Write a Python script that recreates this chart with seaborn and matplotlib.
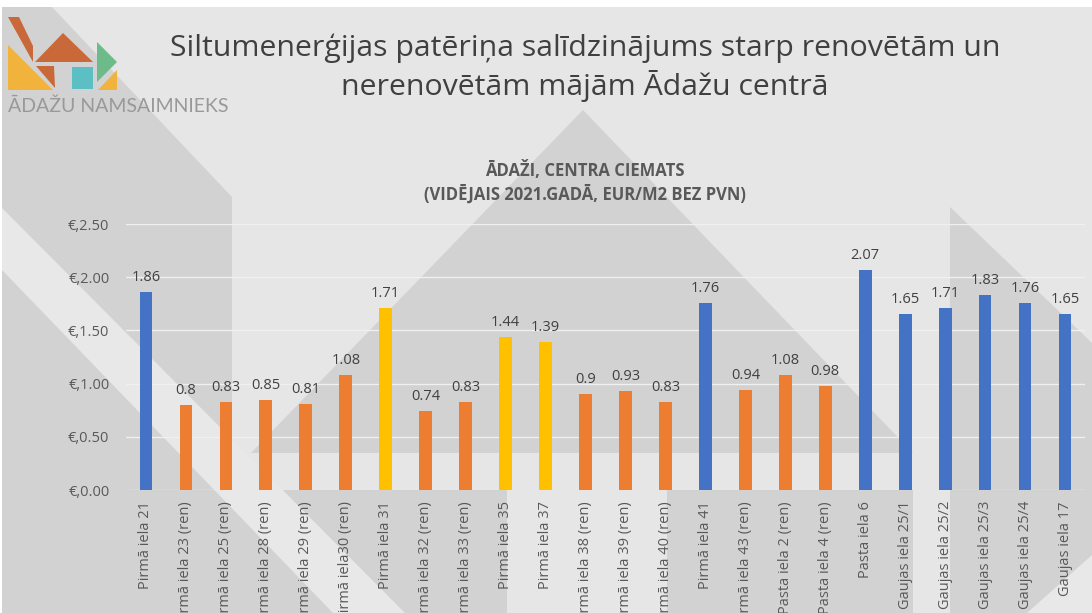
import numpy as np
import pandas as pd
import seaborn as sns
import matplotlib.pyplot as plt
from matplotlib.patches import Polygon, Rectangle

# chart data
labels = ["Pirmā iela 21", "Pirmā iela 23 (ren)", "Pirmā iela 25 (ren)", "Pirmā iela 28 (ren)",
          "Pirmā iela 29 (ren)", "Pirmā iela30 (ren)", "Pirmā iela 31", "Pirmā iela 32 (ren)",
          "Pirmā iela 33 (ren)", "Pirmā iela 35", "Pirmā iela 37", "Pirmā iela 38 (ren)",
          "Pirmā iela 39 (ren)", "Pirmā iela 40 (ren)", "Pirmā iela 41", "Pirmā iela 43 (ren)",
          "Pasta iela 2 (ren)", "Pasta iela 4 (ren)", "Pasta iela 6", "Gaujas iela 25/1",
          "Gaujas iela 25/2", "Gaujas iela 25/3", "Gaujas iela 25/4", "Gaujas iela 17"]
values = [1.86, 0.8, 0.83, 0.85, 0.81, 1.08, 1.71, 0.74, 0.83, 1.44, 1.39, 0.9,
          0.93, 0.83, 1.76, 0.94, 1.08, 0.98, 2.07, 1.65, 1.71, 1.83, 1.76, 1.65]
groups = ["b", "o", "o", "o", "o", "o", "y", "o", "o", "y", "y", "o",
          "o", "o", "b", "o", "o", "o", "b", "b", "b", "b", "b", "b"]
yticks = [0.0, 0.5, 1.0, 1.5, 2.0, 2.5]

group_colors = {"b": "#4472C4", "o": "#ED7D31", "y": "#FFC000"}
bar_colors = [group_colors[g] for g in groups]

df = pd.DataFrame({"label": labels, "value": values})

W, H = 1092, 613
fig = plt.figure(figsize=(W / 100, H / 100), dpi=100, facecolor="white")


def px(pts):
    # image pixel coords -> figure fraction
    return [(x / W, 1 - y / H) for x, y in pts]


def poly(pts, color, z=0):
    fig.add_artist(Polygon(px(pts), closed=True, facecolor=color, edgecolor="none",
                           transform=fig.transFigure, zorder=z))


light = "#e6e6e6"
dark = "#d2d2d2"
fig.add_artist(Rectangle((2 / W, 0), 1, 1 - 7 / H, facecolor=light, edgecolor="none",
                         transform=fig.transFigure, zorder=-10))
# background shapes
poly([(2, 7), (52, 7), (232, 197), (232, 613), (2, 613)], dark, -9)
poly([(251, 453), (583, 110), (913, 453)], dark, -9)
poly([(232, 490), (507, 490), (507, 613), (232, 613)], dark, -9)
poly([(667, 490), (913, 490), (913, 613), (667, 613)], dark, -9)
poly([(950, 207), (1092, 343), (1092, 613), (950, 613)], dark, -9)
poly([(2, 208), (405, 613), (333, 613), (2, 270)], "#e8e8e8", -8)
poly([(1027, 613), (1092, 555), (1092, 613)], "#e8e8e8", -8)

# logo
poly([(8, 17), (19, 17), (33, 46), (33, 62)], "#C9693A", 1)
poly([(8, 45), (8, 90), (53, 90)], "#F2B33D", 1)
poly([(35, 62), (63, 33), (93, 62)], "#C9693A", 1)
poly([(36, 66), (54, 66), (55, 88)], "#C9693A", 1)
poly([(72, 67), (93, 67), (93, 89), (72, 89)], "#5BBFC4", 1)
poly([(97, 42), (97, 82), (117, 62)], "#6DBB8A", 1)
poly([(98, 90), (117, 70), (117, 90)], "#F2B33D", 1)
fig.text(8 / W, 1 - 106 / H, "ĀDAŽU NAMSAIMNIEKS", fontsize=14, color="#999999",
         family="Lato", va="center", ha="left")

# titles
fig.text(585 / W, 1 - 68 / H,
         "Siltumenerģijas patēriņa salīdzinājums starp renovētām un\nnerenovētām mājām Ādažu centrā",
         fontsize=21.8, color="#404040", family="Open Sans", ha="center", va="center",
         linespacing=1.3)
fig.text(585 / W, 1 - 182 / H, "ĀDAŽI, CENTRA CIEMATS\n(VIDĒJAIS 2021.GADĀ, EUR/M2 BEZ PVN)",
         fontsize=12, color="#595959", family="Open Sans", fontweight="bold",
         ha="center", va="center", linespacing=1.3)

ax = fig.add_axes([126 / W, (H - 490) / H, 959 / W, 266 / H])
ax.set_facecolor("none")
sns.barplot(data=df, x="label", y="value", hue="label", palette=bar_colors, legend=False,
            width=0.32, saturation=1, ax=ax, zorder=3)

for c, v in zip(ax.containers, values):
    ax.bar_label(c, labels=[f"{v:g}"], padding=5, fontsize=10.5, color="#404040",
                 family="Open Sans")

ax.set_ylim(0, 2.5)
ax.set_xlim(-0.5, len(labels) - 0.5)
ax.set_yticks(yticks)
ax.set_yticklabels([f"€,{t:.2f}" for t in yticks], fontsize=10.5, color="#595959",
                   family="Open Sans")
ax.set_xticks(range(len(labels)))
ax.set_xticklabels(labels, rotation=90, fontsize=10.5, color="#595959", family="Open Sans",
                   va="top", ha="center")
ax.tick_params(axis="both", length=0)
ax.tick_params(axis="y", pad=12)
ax.tick_params(axis="x", pad=8)
ax.set_xlabel("")
ax.set_ylabel("")
for y in yticks:
    ax.axhline(y, color="#f0f0f0", lw=1, zorder=1)
for s in ax.spines.values():
    s.set_visible(False)

fig.savefig("out.png", dpi=100)
